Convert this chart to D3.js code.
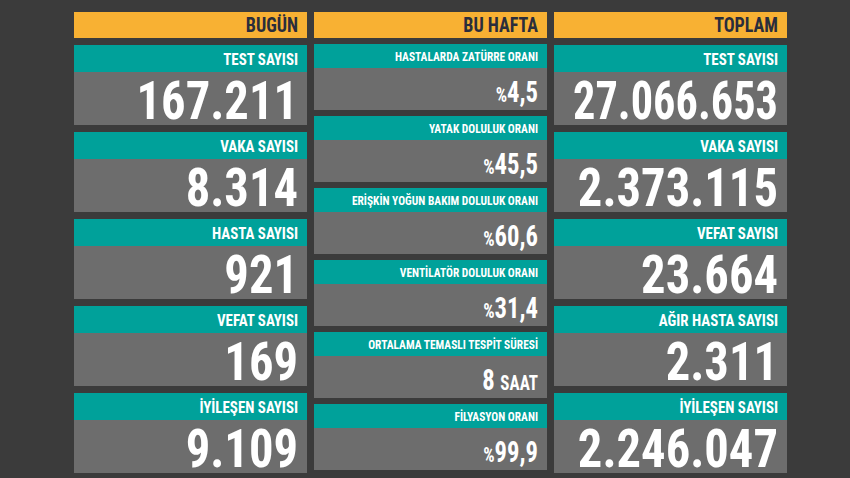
<!DOCTYPE html><html><head><meta charset="utf-8"><script src="https://d3js.org/d3.v7.min.js"></script>
<style>body{margin:0;background:#3b3b3b}svg{display:block}text{font-family:"Liberation Sans Narrow","Roboto Condensed","Liberation Sans",sans-serif;font-weight:bold}</style></head><body>
<script>
const columnTitles=["BUGÜN","BU HAFTA","TOPLAM"];
const todayLabels=["TEST SAYISI","VAKA SAYISI","HASTA SAYISI","VEFAT SAYISI","İYİLEŞEN SAYISI"];
const todayValues=["167.211","8.314","921","169","9.109"];
const weekLabels=["HASTALARDA ZATÜRRE ORANI","YATAK DOLULUK ORANI","ERİŞKİN YOĞUN BAKIM DOLULUK ORANI","VENTİLATÖR DOLULUK ORANI","ORTALAMA TEMASLI TESPİT SÜRESİ","FİLYASYON ORANI"];
const weekValues=["%4,5","%45,5","%60,6","%31,4","8 SAAT","%99,9"];
const totalLabels=["TEST SAYISI","VAKA SAYISI","VEFAT SAYISI","AĞIR HASTA SAYISI","İYİLEŞEN SAYISI"];
const totalValues=["27.066.653","2.373.115","23.664","2.311","2.246.047"];

const svg=d3.select("body").append("svg").attr("width",850).attr("height",478);
svg.append("rect").attr("width",850).attr("height",478).attr("fill","#3b3b3b");
const colX=[74,314,554], colW=233;
function fit(t,ax,ay,maxW,base){
  const len=t.node().getComputedTextLength();
  const s=Math.min(base,maxW/len);
  t.attr("x",0).attr("y",0).attr("transform",`translate(${ax},${ay}) scale(${s},1)`);
}
columnTitles.forEach((t,i)=>{
  svg.append("rect").attr("x",colX[i]).attr("y",12).attr("width",colW).attr("height",26).attr("fill","#f8b133");
  const tx=svg.append("text").attr("text-anchor","end").attr("font-size",20).attr("fill","#2a2d3c").text(t);
  fit(tx,colX[i]+colW-9,32,200,0.9);
});
function big(ci,labels,values){
  const y=d3.scaleBand().domain(d3.range(labels.length)).range([45,480]).paddingInner(0);
  labels.forEach((l,i)=>{
    const y0=y(i), x0=colX[ci];
    svg.append("rect").attr("x",x0).attr("y",y0).attr("width",colW).attr("height",27).attr("fill","#00a19a");
    svg.append("rect").attr("x",x0).attr("y",y0+27).attr("width",colW).attr("height",53).attr("fill","#6d6d6d");
    const a=svg.append("text").attr("text-anchor","end").attr("font-size",17).attr("fill","#fff").text(l);
    fit(a,x0+colW-9,y0+20,210,0.88);
    const b=svg.append("text").attr("text-anchor","end").attr("font-size",54).attr("fill","#fff").text(values[i]);
    fit(b,x0+colW-9,y0+74,205,0.9);
  });
}
big(0,todayLabels,todayValues);
big(2,totalLabels,totalValues);
const y2=d3.scaleBand().domain(d3.range(weekLabels.length)).range([44,476]);
weekLabels.forEach((l,i)=>{
  const y0=y2(i), x0=colX[1];
  svg.append("rect").attr("x",x0).attr("y",y0).attr("width",colW).attr("height",24).attr("fill","#00a19a");
  svg.append("rect").attr("x",x0).attr("y",y0+24).attr("width",colW).attr("height",42).attr("fill","#6d6d6d");
  const a=svg.append("text").attr("text-anchor","end").attr("font-size",13).attr("fill","#fff").text(l);
  fit(a,x0+colW-9,y0+17,210,0.88);
  const v=weekValues[i], t=svg.append("text").attr("text-anchor","end").attr("fill","#fff").attr("font-size",29);
  if(v.startsWith("%")){t.append("tspan").attr("font-size",21).text("%");t.append("tspan").text(v.slice(1));}
  else {const p=v.split(" ");t.append("tspan").text(p[0]+" ");t.append("tspan").attr("font-size",20).text(p[1]);}
  fit(t,x0+colW-9,y0+58,210,0.85);
});
</script></body></html>
